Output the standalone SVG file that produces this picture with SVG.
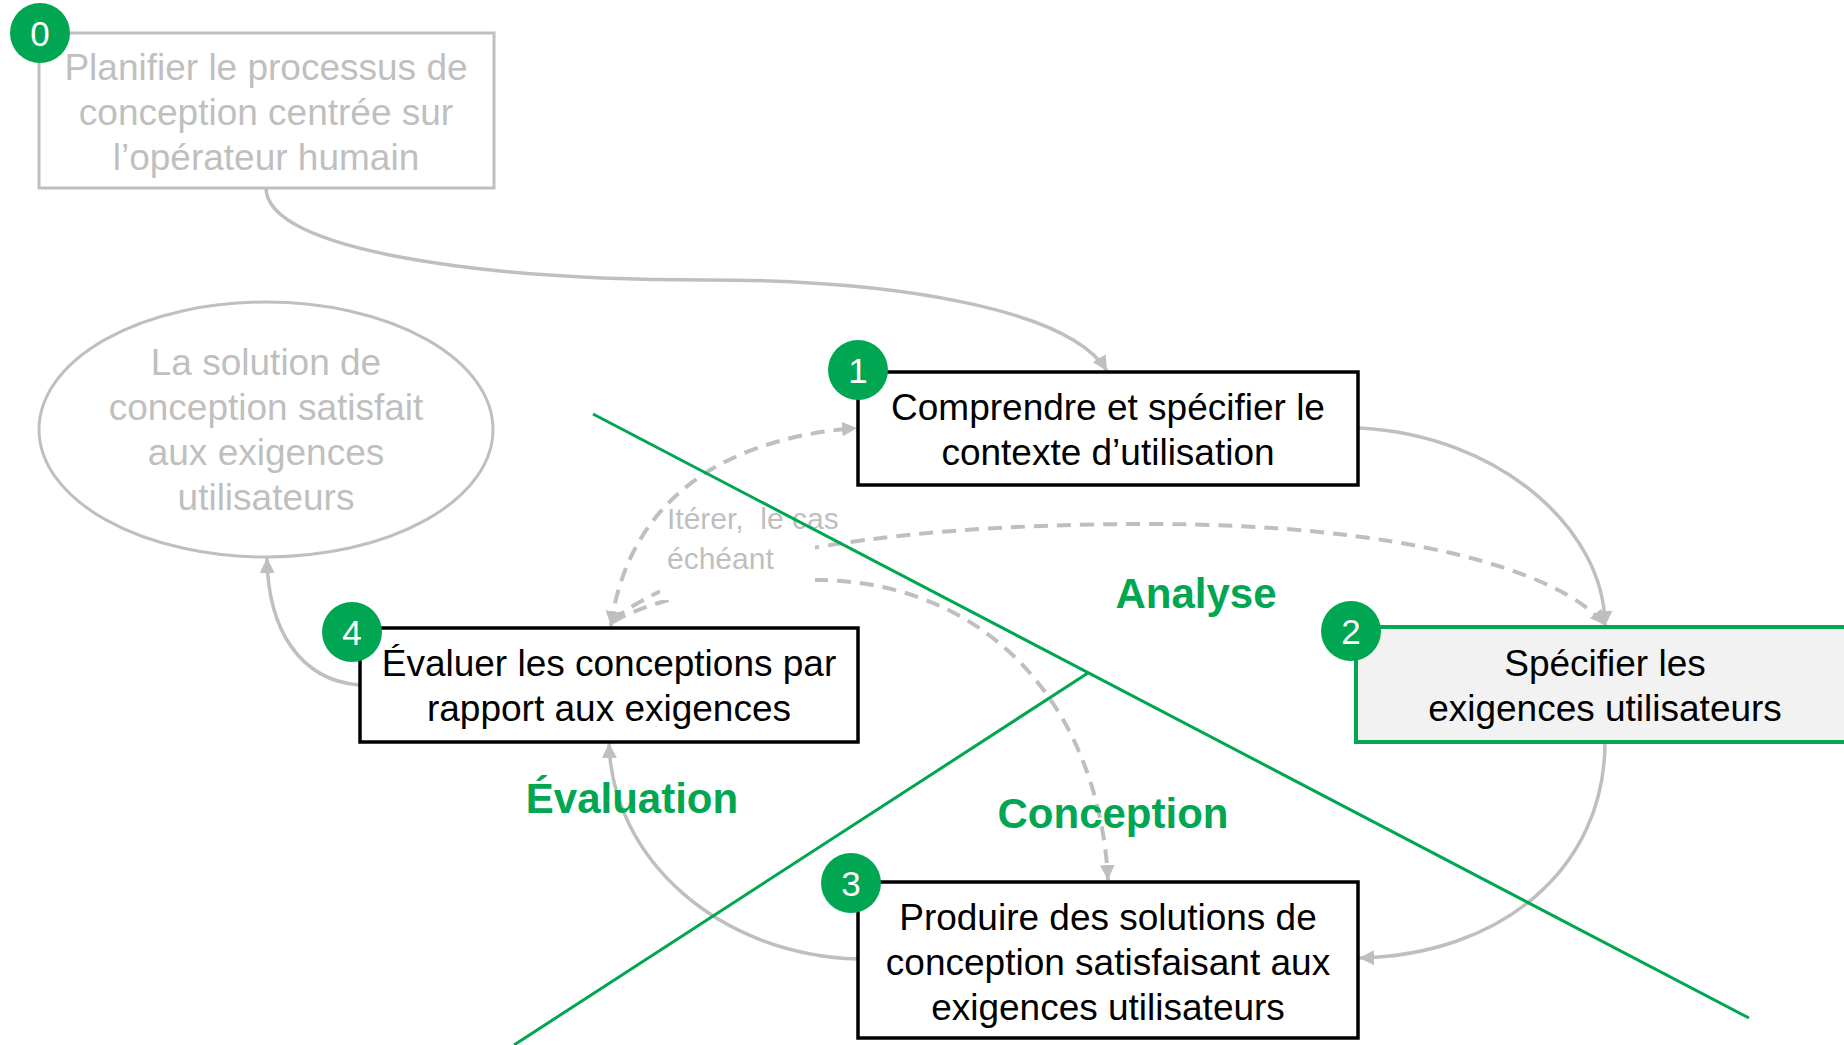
<svg xmlns="http://www.w3.org/2000/svg" width="1844" height="1045" viewBox="0 0 1844 1045">
  <style>
    .t { font-family: "Liberation Sans", Arial, sans-serif; font-size: 37px; text-anchor: middle; }
    .dark { fill: #000000; }
    .grey { fill: #bfbfbf; }
    .box { fill: #ffffff; stroke: #000000; stroke-width: 3.5; }
    .greybox { fill: #ffffff; stroke: #bfbfbf; stroke-width: 3; }
    .badge { fill: #00a651; }
    .num { font-family: "Liberation Sans", Arial, sans-serif; font-size: 35px; fill: #ffffff; text-anchor: middle; }
    .conn { fill: none; stroke: #bfbfbf; stroke-width: 3.5; }
    .dash { fill: none; stroke: #bfbfbf; stroke-width: 4; stroke-dasharray: 14 9; }
    .phase { stroke: #00a651; stroke-width: 3; fill: none; }
    .plabel { font-family: "Liberation Sans", Arial, sans-serif; font-size: 42px; font-weight: bold; fill: #00a651; text-anchor: middle; }
    .iter { font-family: "Liberation Sans", Arial, sans-serif; font-size: 30px; fill: #bfbfbf; white-space: pre; }
  </style>
  <defs>
    <marker id="arrow" viewBox="0 0 14 14" refX="14" refY="7" markerWidth="15" markerHeight="15" markerUnits="userSpaceOnUse" orient="auto-start-reverse">
      <path d="M0,0 L14,7 L0,14 Z" fill="#bfbfbf"/>
    </marker>
  </defs>

  <g id="connectors">
    <!-- iteration dashed connectors to nodes 2 and 3 (partly hidden behind label) -->
    <path class="dash" d="M613,620 C680,565 850,524 1150,524 C1400,524 1560,570 1605,625" marker-end="url(#arrow)"/>
    <path class="dash" d="M613,622 C640,605 720,580 823,580 C1000,585 1100,720 1108,880" marker-end="url(#arrow)"/>
    <g id="label-iterer">
      <rect x="660" y="500" width="155" height="100" fill="#ffffff"/>
      <text class="iter" x="667" y="529" xml:space="preserve">Itérer,  le cas</text>
      <text class="iter" x="667" y="569">échéant</text>
    </g>
    <!-- iteration dashed connector between 4 and 1 -->
    <path class="dash" d="M611,626 C625,520 700,440 857,428" marker-start="url(#arrow)" marker-end="url(#arrow)"/>
    <!-- solid connectors -->
    <path class="conn" d="M266,188 C266,250 480,280 706,280 C900,280 1070,310 1107,371" marker-end="url(#arrow)"/>
    <path class="conn" d="M1359,428 C1500,435 1605,530 1605,626" marker-end="url(#arrow)"/>
    <path class="conn" d="M1605,742 C1605,870 1500,955 1359,958" marker-end="url(#arrow)"/>
    <path class="conn" d="M858,959 C720,955 612,860 609,743" marker-end="url(#arrow)"/>
    <path class="conn" d="M359,685 C300,680 268,630 267,558" marker-end="url(#arrow)"/>
  </g>

  <g id="phase-lines">
    <line class="phase" x1="593" y1="414" x2="1749" y2="1018"/>
    <line class="phase" x1="1088" y1="673" x2="514" y2="1045"/>
  </g>

  <g id="node-0">
    <rect class="greybox" x="39" y="33" width="455" height="155"/>
    <text class="t grey" x="266" y="80">Planifier le processus de</text>
    <text class="t grey" x="266" y="125">conception centrée sur</text>
    <text class="t grey" x="266" y="170">l’opérateur humain</text>
    <circle class="badge" cx="40" cy="33" r="30"/>
    <text class="num" x="40" y="45.5">0</text>
  </g>

  <g id="node-end">
    <ellipse cx="266" cy="429.5" rx="227" ry="127.5" fill="#ffffff" stroke="#bfbfbf" stroke-width="3"/>
    <text class="t grey" x="266" y="375">La solution de</text>
    <text class="t grey" x="266" y="420">conception satisfait</text>
    <text class="t grey" x="266" y="465">aux exigences</text>
    <text class="t grey" x="266" y="510">utilisateurs</text>
  </g>

  <g id="node-1">
    <rect class="box" x="858" y="372" width="500" height="113"/>
    <text class="t dark" x="1108" y="420">Comprendre et spécifier le</text>
    <text class="t dark" x="1108" y="465">contexte d’utilisation</text>
    <circle class="badge" cx="858" cy="370" r="30"/>
    <text class="num" x="858" y="382.5">1</text>
  </g>

  <g id="node-2">
    <rect x="1356" y="627" width="500" height="115" fill="#f2f2f2" stroke="#00a651" stroke-width="4"/>
    <text class="t dark" x="1605" y="676">Spécifier les</text>
    <text class="t dark" x="1605" y="721">exigences utilisateurs</text>
    <circle class="badge" cx="1351" cy="631" r="30"/>
    <text class="num" x="1351" y="643.5">2</text>
  </g>

  <g id="node-3">
    <rect class="box" x="858" y="882" width="500" height="156"/>
    <text class="t dark" x="1108" y="930">Produire des solutions de</text>
    <text class="t dark" x="1108" y="975">conception satisfaisant aux</text>
    <text class="t dark" x="1108" y="1020">exigences utilisateurs</text>
    <circle class="badge" cx="851" cy="883" r="30"/>
    <text class="num" x="851" y="895.5">3</text>
  </g>

  <g id="node-4">
    <rect class="box" x="360" y="628" width="498" height="114"/>
    <text class="t dark" x="609" y="676">Évaluer les conceptions par</text>
    <text class="t dark" x="609" y="721">rapport aux exigences</text>
    <circle class="badge" cx="352" cy="632" r="30"/>
    <text class="num" x="352" y="644.5">4</text>
  </g>

  <g id="phase-labels">
    <text class="plabel" x="1196" y="608">Analyse</text>
    <text class="plabel" x="632" y="813">Évaluation</text>
    <text class="plabel" x="1113" y="828">Conception</text>
  </g>
</svg>
